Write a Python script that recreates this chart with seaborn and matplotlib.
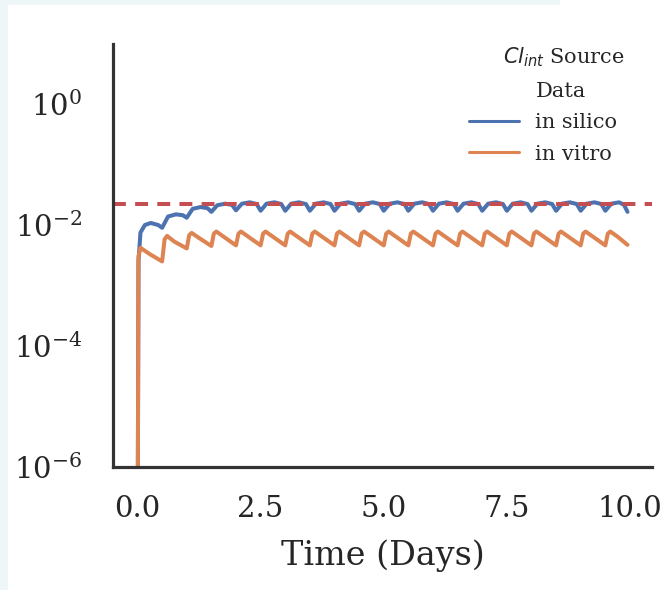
import numpy as np
import pandas as pd
import matplotlib
matplotlib.use("Agg")
import matplotlib.pyplot as plt
from matplotlib.lines import Line2D
from matplotlib.patches import Rectangle
import seaborn as sns

# ---- data ----
silico_days = [0.00, 0.02, 0.06, 0.15, 0.27, 0.42, 0.50,
               0.62, 0.78, 0.92, 1.00,
               1.12, 1.28, 1.42, 1.50,
               1.62, 1.78, 1.92, 2.00,
               2.12, 2.28, 2.42, 2.50,
               2.62, 2.78, 2.92, 3.00,
               3.12, 3.28, 3.42, 3.50,
               3.62, 3.78, 3.92, 4.00,
               4.12, 4.28, 4.42, 4.50,
               4.62, 4.78, 4.92, 5.00,
               5.12, 5.28, 5.42, 5.50,
               5.62, 5.78, 5.92, 6.00,
               6.12, 6.28, 6.42, 6.50,
               6.62, 6.78, 6.92, 7.00,
               7.12, 7.28, 7.42, 7.50,
               7.62, 7.78, 7.92, 8.00,
               8.12, 8.28, 8.42, 8.50,
               8.62, 8.78, 8.92, 9.00,
               9.12, 9.28, 9.42, 9.50,
               9.62, 9.78, 9.88, 9.95]
silico_conc = [1e-8, 0.0025, 0.0075, 0.0100, 0.0108, 0.0100, 0.0090,
               0.0138, 0.0150, 0.0145, 0.0132,
               0.0185, 0.0198, 0.0190, 0.0165,
               0.0212, 0.0225, 0.0215, 0.0175,
               0.0225, 0.0237, 0.0222, 0.0172,
               0.0225, 0.0237, 0.0222, 0.0172,
               0.0225, 0.0237, 0.0222, 0.0172,
               0.0225, 0.0237, 0.0222, 0.0172,
               0.0225, 0.0237, 0.0222, 0.0172,
               0.0225, 0.0237, 0.0222, 0.0172,
               0.0225, 0.0237, 0.0222, 0.0172,
               0.0225, 0.0237, 0.0222, 0.0172,
               0.0225, 0.0237, 0.0222, 0.0172,
               0.0225, 0.0237, 0.0222, 0.0172,
               0.0225, 0.0237, 0.0222, 0.0172,
               0.0225, 0.0237, 0.0222, 0.0172,
               0.0225, 0.0237, 0.0222, 0.0172,
               0.0225, 0.0237, 0.0222, 0.0172,
               0.0225, 0.0237, 0.0222, 0.0172,
               0.0225, 0.0237, 0.0215, 0.0165]

vitro_days = [0.00, 0.02, 0.06, 0.25, 0.50,
              0.55, 0.60, 0.75, 1.00,
              1.05, 1.10, 1.25, 1.50,
              1.55, 1.60, 1.75, 2.00,
              2.05, 2.10, 2.25, 2.50,
              2.55, 2.60, 2.75, 3.00,
              3.05, 3.10, 3.25, 3.50,
              3.55, 3.60, 3.75, 4.00,
              4.05, 4.10, 4.25, 4.50,
              4.55, 4.60, 4.75, 5.00,
              5.05, 5.10, 5.25, 5.50,
              5.55, 5.60, 5.75, 6.00,
              6.05, 6.10, 6.25, 6.50,
              6.55, 6.60, 6.75, 7.00,
              7.05, 7.10, 7.25, 7.50,
              7.55, 7.60, 7.75, 8.00,
              8.05, 8.10, 8.25, 8.50,
              8.55, 8.60, 8.75, 9.00,
              9.05, 9.10, 9.25, 9.50,
              9.55, 9.60, 9.75, 9.95]
vitro_conc = [1e-8, 0.0030, 0.0042, 0.0033, 0.0025,
              0.0058, 0.0066, 0.0053, 0.0041,
              0.0068, 0.0074, 0.0061, 0.0045,
              0.0072, 0.0078, 0.0064, 0.0046,
              0.0072, 0.0078, 0.0064, 0.0046,
              0.0072, 0.0078, 0.0064, 0.0046,
              0.0072, 0.0078, 0.0064, 0.0046,
              0.0072, 0.0078, 0.0064, 0.0046,
              0.0072, 0.0078, 0.0064, 0.0046,
              0.0072, 0.0078, 0.0064, 0.0046,
              0.0072, 0.0078, 0.0064, 0.0046,
              0.0072, 0.0078, 0.0064, 0.0046,
              0.0072, 0.0078, 0.0064, 0.0046,
              0.0072, 0.0078, 0.0064, 0.0046,
              0.0072, 0.0078, 0.0064, 0.0046,
              0.0072, 0.0078, 0.0064, 0.0046,
              0.0072, 0.0078, 0.0064, 0.0046,
              0.0072, 0.0078, 0.0064, 0.0046,
              0.0072, 0.0078, 0.0064, 0.0046,
              0.0072, 0.0078, 0.0064, 0.0047]

series_labels = ["in silico", "in vitro"]
threshold = 0.022
y_ticks = [1e-6, 1e-4, 1e-2, 1e0]
x_ticks = [0, 2.5, 5.0, 7.5, 10.0]
y_limits = (1e-6, 10)

df = pd.concat([
    pd.DataFrame({"Time": silico_days, "Conc": silico_conc, "Data": series_labels[0]}),
    pd.DataFrame({"Time": vitro_days, "Conc": vitro_conc, "Data": series_labels[1]}),
], ignore_index=True)

# ---- style ----
sns.set_theme(context="poster", style="white")
plt.rcParams["font.family"] = ["DejaVu Serif"]
plt.rcParams["axes.edgecolor"] = "#333333"

fig = plt.figure(figsize=(6.66, 5.90), dpi=100)
# light border strips seen in the reference screenshot
fig.patches.append(Rectangle((0, 0), 8 / 666, 1, transform=fig.transFigure,
                             facecolor="#eef6f8", edgecolor="none", zorder=0))
fig.patches.append(Rectangle((0, 1 - 5 / 590), 560 / 666, 5 / 590, transform=fig.transFigure,
                             facecolor="#eef6f8", edgecolor="none", zorder=0))

ax = fig.add_axes([113 / 666, 1 - 467 / 590, (652 - 113) / 666, (467 - 43.5) / 590])
ax.patch.set_alpha(0)
pal = sns.color_palette("deep")
sns.lineplot(data=df, x="Time", y="Conc", hue="Data", palette=[pal[0], pal[1]],
             estimator=None, linewidth=2.9, ax=ax)
ax.axhline(threshold, color=pal[3], linestyle="--", linewidth=2.9, dashes=(3.2, 2.3))
ax.set_yscale("log")
ax.set_ylim(*y_limits)
ax.set_yticks(y_ticks)
ax.minorticks_off()
ax.set_xticks(x_ticks)
ax.set_xlabel("Time (Days)", fontsize=24, labelpad=12)
ax.set_ylabel("")
ax.tick_params(axis="x", labelsize=21, pad=20, length=0)
ax.tick_params(axis="y", labelsize=21, pad=22, length=0)
sns.despine(ax=ax)
for s in ["left", "bottom"]:
    ax.spines[s].set_linewidth(2.3)

handles, labels = ax.get_legend_handles_labels()
blank = Line2D([], [], linestyle="none", marker=None)
leg = ax.legend([blank] + handles, ["Data"] + labels, title="$Cl_{int}$ Source",
                loc="upper right", bbox_to_anchor=(0.955, 1.02), frameon=False,
                fontsize=15, title_fontsize=15, handlelength=2.4, labelspacing=0.6,
                borderaxespad=0.1, alignment="right")
leg.get_title().set_position((8, 0))
for line in leg.get_lines():
    line.set_linewidth(2.2)

fig.savefig("out.png", dpi=100)
